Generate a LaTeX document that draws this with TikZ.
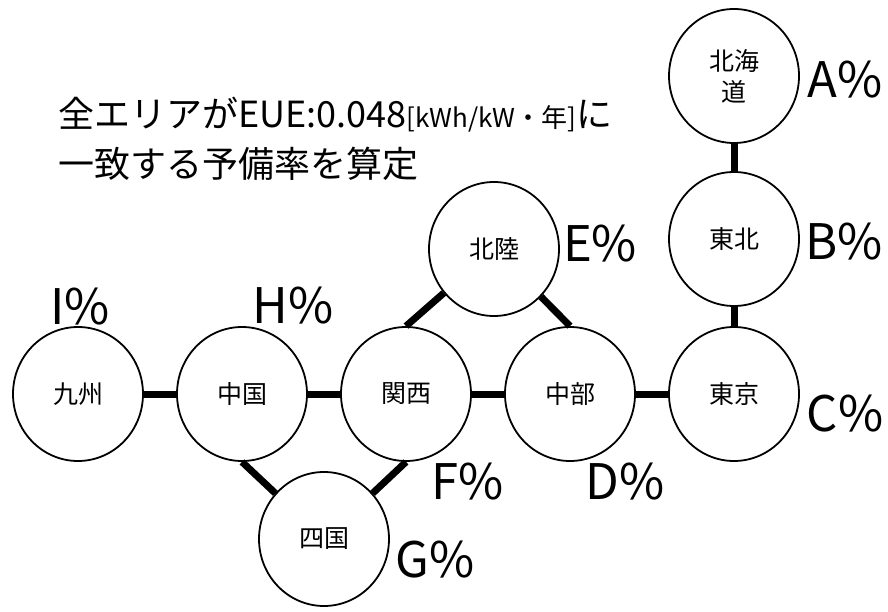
\documentclass[tikz,border=0pt]{standalone}
\usepackage{fontspec}
\setmainfont{Noto Sans CJK JP}
\usepackage{tikz}
\usetikzlibrary{shapes.geometric}

\begin{document}
\begin{tikzpicture}[node distance=164pt]
		\tikzstyle{area} = [ellipse, minimum width=130pt, minimum height=134pt, inner sep=0pt, align=center, draw=black, line width=1.8pt, font=\fontsize{25}{31}\selectfont]
		\tikzstyle{rate} = [inner sep=0pt, font=\fontsize{49}{58}\selectfont]
		\tikzstyle{link} = [line width=7pt]

		\useasboundingbox (0pt,0pt) rectangle (888pt,611pt);

		\node (title) [anchor=north west, inner sep=0pt, align=left, font=\fontsize{36}{50}\selectfont] at (58pt,514pt) {全エリアがEUE:0.048{\fontsize{26}{30}\selectfont[kWh/kW・年]}に\\一致する予備率を算定};

		\node (kyushu) [area] at (78pt,217pt) {九州};
		\node (chugoku) [area, right of=kyushu] {中国};
		\node (kansai) [area, right of=chugoku] {関西};
		\node (chubu) [area, right of=kansai] {中部};
		\node (tokyo) [area, right of=chubu] {東京};
		\node (tohoku) [area, above of=tokyo, yshift=-9pt] {東北};
		\node (hokkaido) [area, above of=tohoku, yshift=-1pt] {北海\\道};
		\node (hokuriku) [area, above of=kansai, xshift=88pt, yshift=-19pt] {北陸};
		\node (shikoku) [area, below of=chugoku, xshift=82pt, yshift=19pt] {四国};

		\node (rateA) [rate, right of=hokkaido, xshift=-53pt, yshift=-4pt] {A\%};
		\node (rateB) [rate, right of=tohoku, xshift=-54pt, yshift=-3pt] {B\%};
		\node (rateC) [rate, right of=tokyo, xshift=-53pt, yshift=-20pt] {C\%};
		\node (rateD) [rate, below of=chubu, xshift=55pt, yshift=76pt] {D\%};
		\node (rateE) [rate, right of=hokuriku, xshift=-58pt, yshift=5pt] {E\%};
		\node (rateF) [rate, below of=kansai, xshift=62pt, yshift=76pt] {F\%};
		\node (rateG) [rate, right of=shikoku, xshift=-53pt, yshift=-21pt] {G\%};
		\node (rateH) [rate, above of=chugoku, xshift=51pt, yshift=-76pt] {H\%};
		\node (rateI) [rate, above of=kyushu, xshift=2pt, yshift=-77pt] {I\%};

		\draw [link] (kyushu) -- (chugoku);
		\draw [link] (chugoku) -- (kansai);
		\draw [link] (kansai) -- (chubu);
		\draw [link] (chubu) -- (tokyo);
		\draw [link] (tokyo) -- (tohoku);
		\draw [link] (tohoku) -- (hokkaido);
		\draw [link] (hokuriku) -- (kansai.north);
		\draw [link] (hokuriku) -- (chubu.north);
		\draw [link] (chugoku.south) -- (shikoku);
		\draw [link] (kansai.south) -- (shikoku);
	\end{tikzpicture}
\end{document}
